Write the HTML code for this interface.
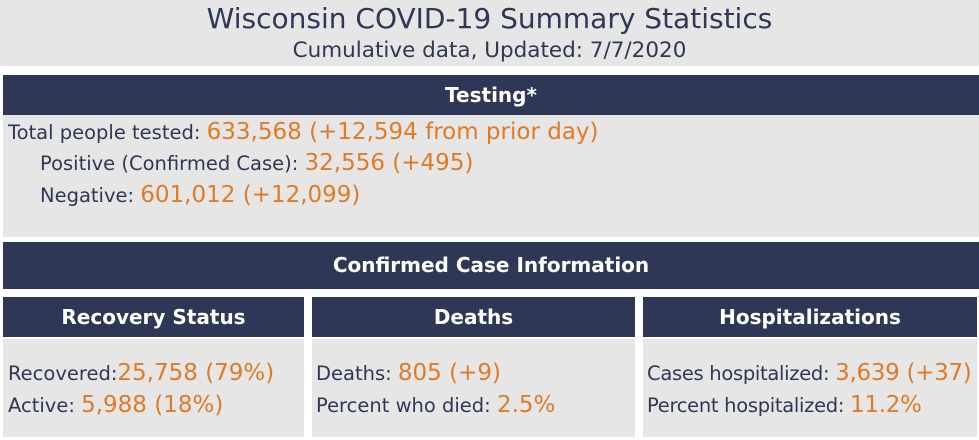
<!DOCTYPE html>
<html><head><meta charset="utf-8"><style>
body{margin:0;width:979px;height:440px;background:#fff;position:relative;overflow:hidden;font-family:"DejaVu Sans","Liberation Sans",sans-serif;color:#2e3856}
div{position:absolute;box-sizing:border-box}
.g{background:#e6e6e6}
.n{background:#2e3856;color:#fff;font-weight:bold;text-align:center}
.o{color:#e07b25;font-size:23px}
.l{font-size:19.5px;white-space:nowrap}
</style></head><body>
<div class="g" style="left:0;top:0;width:979px;height:66px"></div>
<div style="left:0;top:2px;width:979px;text-align:center;font-size:28px">Wisconsin COVID-19 Summary Statistics</div>
<div style="left:0;top:38px;width:979px;text-align:center;font-size:21.5px">Cumulative data, Updated: 7/7/2020</div>

<div class="n" style="left:3px;top:75px;width:976px;height:40px;line-height:40px;font-size:20px">Testing*</div>
<div class="g" style="left:3px;top:115px;width:976px;height:122px"></div>
<div class="l" style="left:8px;top:119px">Total people tested: <span class="o">633,568 (+12,594 from prior day)</span></div>
<div class="l" style="left:40px;top:150px">Positive (Confirmed Case): <span class="o">32,556 (+495)</span></div>
<div class="l" style="left:40px;top:182px">Negative: <span class="o">601,012 (+12,099)</span></div>

<div class="n" style="left:3px;top:242px;width:976px;height:47px;line-height:47px;font-size:20px">Confirmed Case Information</div>

<div class="n" style="left:3px;top:297px;width:301px;height:40px;line-height:40px;font-size:20px">Recovery Status</div>
<div class="g" style="left:3px;top:339px;width:301px;height:98px"></div>
<div class="l" style="left:8px;top:360px">Recovered:<span class="o">25,758 (79%)</span></div>
<div class="l" style="left:8px;top:392px">Active: <span class="o">5,988 (18%)</span></div>

<div class="n" style="left:312px;top:297px;width:323px;height:40px;line-height:40px;font-size:20px">Deaths</div>
<div class="g" style="left:312px;top:339px;width:323px;height:98px"></div>
<div class="l" style="left:316px;top:360px">Deaths: <span class="o">805 (+9)</span></div>
<div class="l" style="left:316px;top:392px">Percent who died: <span class="o">2.5%</span></div>

<div class="n" style="left:643px;top:297px;width:334px;height:40px;line-height:40px;font-size:20px">Hospitalizations</div>
<div class="g" style="left:643px;top:339px;width:334px;height:98px"></div>
<div class="l" style="left:647px;top:360px;letter-spacing:-0.3px">Cases hospitalized: <span class="o">3,639 (+37)</span></div>
<div class="l" style="left:647px;top:392px;letter-spacing:-0.3px">Percent hospitalized: <span class="o">11.2%</span></div>
</body></html>
